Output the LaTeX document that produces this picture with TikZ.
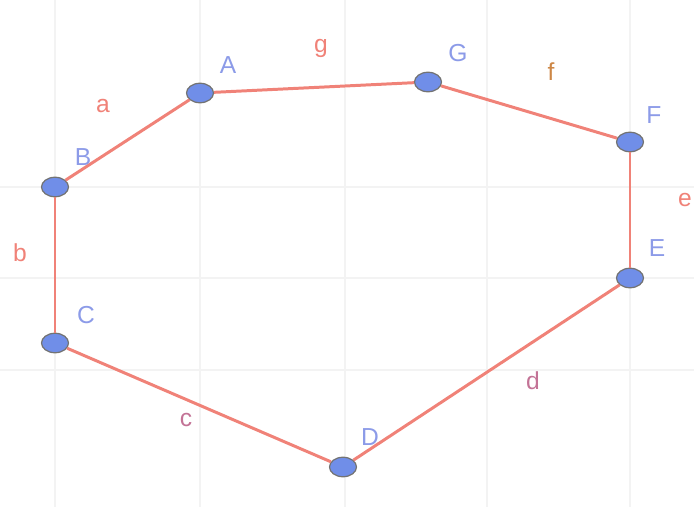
\documentclass[tikz,border=0pt]{standalone}
\usepackage{fontspec}
\setmainfont{Liberation Sans}
\usetikzlibrary{shapes.geometric}
\definecolor{edgeRed}{RGB}{240,130,120}
\definecolor{ptBlue}{RGB}{112,142,232}
\definecolor{lblBlue}{RGB}{140,155,232}
\definecolor{lblOrange}{RGB}{205,135,70}
\definecolor{lblMauve}{RGB}{195,115,150}
\definecolor{gridGray}{RGB}{243,243,243}

\begin{document}
\begin{tikzpicture}[x=0.02cm,y=-0.02cm,
    pt/.style={ellipse,draw=black!55,fill=ptBlue,line width=0.7pt,minimum width=0.54cm,minimum height=0.39cm,inner sep=0pt},
    ptlbl/.style={text=lblBlue,font=\fontsize{14}{16}\selectfont},
    seglbl/.style={font=\fontsize{14}{16}\selectfont},
    seg/.style={edgeRed,line width=1.7pt}]
    \useasboundingbox (0,0) rectangle (694,507);
    \clip (0,0) rectangle (694,507);
    % faint grid
    \foreach \gx in {55,200,345,487,630} \draw[gridGray,line width=0.8pt] (\gx,0) -- (\gx,507);
    \foreach \gy in {187,278,370} \draw[gridGray,line width=0.8pt] (0,\gy) -- (694,\gy);
    % vertices
    \node[pt] (A) at (200,93) {};
    \node[pt] (B) at (55,187) {};
    \node[pt] (C) at (55,343) {};
    \node[pt] (D) at (343,467) {};
    \node[pt] (E) at (630,278) {};
    \node[pt] (F) at (630,142) {};
    \node[pt] (G) at (428,82) {};
    % sides
    \draw[seg] (B) -- (A);
    \draw[seg] (A) -- (G);
    \draw[seg] (G) -- (F);
    \draw[seg] (F) -- (E);
    \draw[seg] (E) -- (D);
    \draw[seg] (D) -- (C);
    \draw[seg] (C) -- (B);
    % vertex names
    \node[ptlbl] (labA) at (228,65) {A};
    \node[ptlbl] (labB) at (83,157) {B};
    \node[ptlbl] (labC) at (86,315) {C};
    \node[ptlbl] (labD) at (370,437) {D};
    \node[ptlbl] (labE) at (657,248) {E};
    \node[ptlbl] (labF) at (654,115) {F};
    \node[ptlbl] (labG) at (458,53) {G};
    % side names
    \node[seglbl,text=edgeRed] (laba) at (103,106) {a};
    \node[seglbl,text=edgeRed] (labb) at (20,253) {b};
    \node[seglbl,text=lblMauve] (labc) at (186,420) {c};
    \node[seglbl,text=lblMauve] (labd) at (533,381) {d};
    \node[seglbl,text=edgeRed] (labe) at (685,200) {e};
    \node[seglbl,text=lblOrange] (labf) at (551,72) {f};
    \node[seglbl,text=edgeRed] (labg) at (321,48) {g};
\end{tikzpicture}
\end{document}
